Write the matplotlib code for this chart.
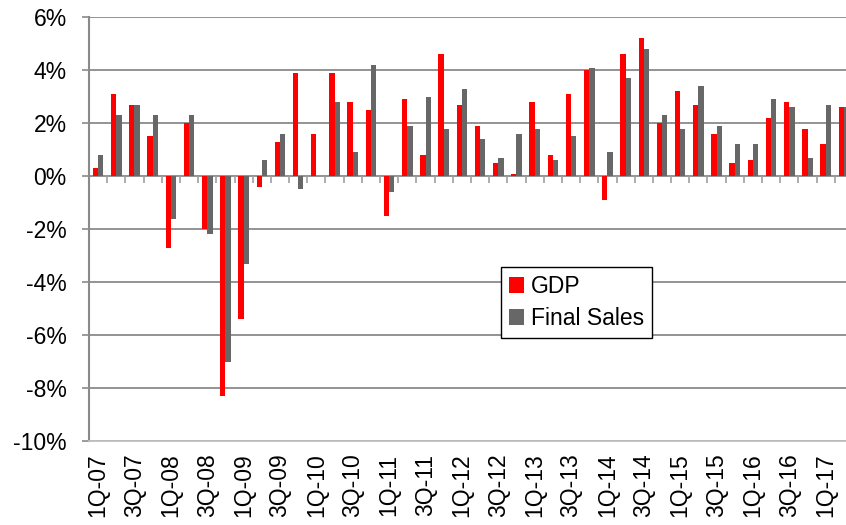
import numpy as np
import matplotlib.pyplot as plt
import matplotlib.ticker as mticker

plt.rcParams["font.family"] = ["Liberation Sans", "DejaVu Sans"]
plt.rcParams["axes.unicode_minus"] = False

# quarterly growth, % annualized, 1Q-07 .. 2Q-17
quarters = [f"{q}Q-{y:02d}" for y in range(7, 18) for q in range(1, 5)][:42]
gdp = [0.3, 3.1, 2.7, 1.5,
       -2.7, 2.0, -2.0, -8.3,
       -5.4, -0.4, 1.3, 3.9,
       1.6, 3.9, 2.8, 2.5,
       -1.5, 2.9, 0.8, 4.6,
       2.7, 1.9, 0.5, 0.1,
       2.8, 0.8, 3.1, 4.0,
       -0.9, 4.6, 5.2, 2.0,
       3.2, 2.7, 1.6, 0.5,
       0.6, 2.2, 2.8, 1.8,
       1.2, 2.6]
final_sales = [0.8, 2.3, 2.7, 2.3,
               -1.6, 2.3, -2.2, -7.0,
               -3.3, 0.6, 1.6, -0.5,
               0.0, 2.8, 0.9, 4.2,
               -0.6, 1.9, 3.0, 1.8,
               3.3, 1.4, 0.7, 1.6,
               1.8, 0.6, 1.5, 4.1,
               0.9, 3.7, 4.8, 2.3,
               1.8, 3.4, 1.9, 1.2,
               1.2, 2.9, 2.6, 0.7,
               2.7, 2.6]

fig = plt.figure(figsize=(8.46, 5.25), dpi=100)
# plot area runs a little past the right edge, like the original
ax = fig.add_axes([89 / 846, 84 / 525, 764 / 846, 423.7 / 525])

x = np.arange(len(quarters))
w = 0.29
ax.bar(x - w / 2, np.array(gdp) / 100, w, color="#ff0000", label="GDP", zorder=3)
ax.bar(x + w / 2, np.array(final_sales) / 100, w, color="#676767", label="Final Sales", zorder=3)

ax.set_xlim(-0.5, len(quarters) - 0.5)
ax.set_ylim(-0.10, 0.06)
ax.set_yticks(np.arange(-0.10, 0.061, 0.02))
ax.yaxis.set_major_formatter(mticker.PercentFormatter(1.0, decimals=0))
ax.grid(axis="y", color="#8a8a8a", linewidth=1.3, zorder=0)

# small category ticks hanging from the zero line
ax.vlines(np.arange(len(quarters)) + 0.5, -0.0024, 0, color="#a0a0a0", linewidth=1.2, zorder=2)

ax.set_xticks(x[::2])
ax.set_xticklabels(quarters[::2], rotation=90)
ax.tick_params(axis="x", length=0, pad=9, labelsize=16.5)
ax.tick_params(axis="y", length=5, width=1.2, color="#8a8a8a", pad=11, labelsize=16.5)

for s in ["top", "right"]:
    ax.spines[s].set_visible(False)
ax.spines["left"].set_color("#8a8a8a")
ax.spines["left"].set_linewidth(1.5)
ax.spines["bottom"].set_color("#c0c0c0")
ax.spines["bottom"].set_linewidth(1.3)

leg = ax.legend(loc="upper left", bbox_to_anchor=(501 / 846, 1 - 267 / 525),
                bbox_transform=fig.transFigure, fontsize=16.5, frameon=True,
                fancybox=False, edgecolor="black", framealpha=1,
                handlelength=0.65, handleheight=0.65, handletextpad=0.3,
                labelspacing=0.4, borderpad=0.35, borderaxespad=0)
leg.get_frame().set_linewidth(1.0)

fig.savefig("out.png", dpi=100)
